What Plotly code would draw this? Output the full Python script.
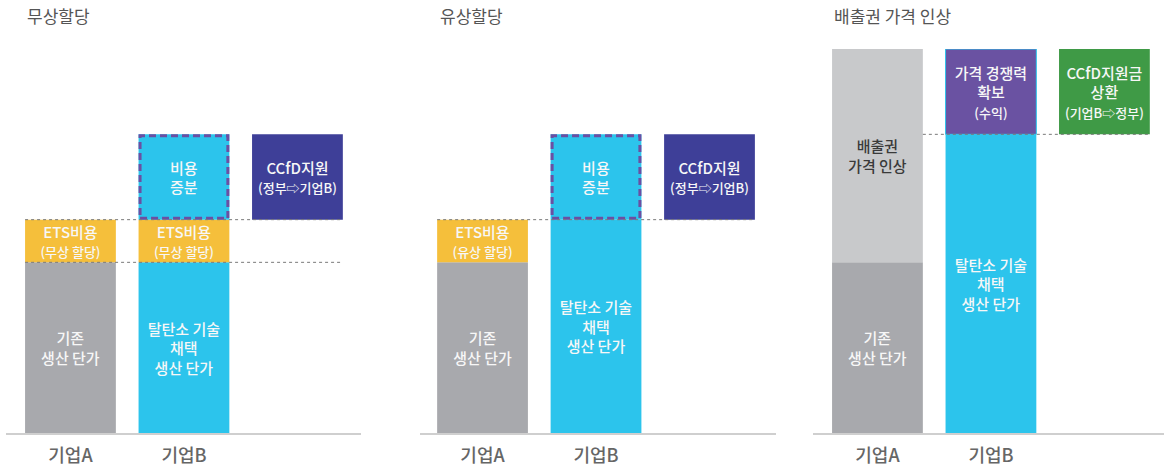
import plotly.graph_objects as go

# ---- data -------------------------------------------------------------
PANEL_TITLES = ["무상할당", "유상할당", "배출권 가격 인상"]
COMPANIES = ["기업A", "기업B"]

# 기업A: 기존 생산 단가 + (ETS비용 / 배출권 가격 인상)
A_BASE_COST = [100, 100, 100]
A_EXTRA_COST = [25, 25, 125]

# 기업B: 탈탄소 기술 채택 생산 단가, ETS비용, 상단 박스(비용 증분 / 가격 경쟁력)
B_BASE_COST = [100, 125, 175]
B_ETS_COST = [25, 0, 0]
B_TOP_BOX = [50, 50, 50]

# 세 번째 막대: CCfD 지원 / 상환
CCFD_AMOUNT = [50, 50, 50]

# ---- style ------------------------------------------------------------
FONT = "Noto Sans CJK KR"
GRAY = "#a8a9ad"
LIGHT_GRAY = "#c8c9cb"
YELLOW = "#f5bf3b"
BLUE = "#2cc4ec"
NAVY = "#3e3f98"
PURPLE = "#6a52a2"
DASH_PURPLE = "#6b4fa2"
GREEN = "#3f9a46"
WHITE_TXT = "#f7f7f7"

W, H = 1164, 468
BAR_W = 0.8
# x-axis pixel spans of each panel and the ranges that place the bars
X_DOMAINS = [(6, 361), (420, 776), (813, 1164)]
X_RANGES = [(-0.568, 2.560), (-0.551, 2.586), (-0.568, 2.525)]
Y_DOMAIN = ((H - 433) / H, (H - 49) / H)
Y_MAX = 225
PX_PER_UNIT_Y = 384 / Y_MAX
PX_PER_UNIT_X = 113.5


def small(t, size=13):
    return f"<span style='font-size:{size}px'>{t}</span>"


fig = go.Figure()


def add_bar(panel, x, base, height, color, text, txt_color=WHITE_TXT,
            size=15, line_color=None, line_width=0):
    suffix = "" if panel == 0 else str(panel + 1)
    fig.add_trace(go.Bar(
        x=[x], y=[height], base=[base], width=BAR_W,
        marker=dict(color=color,
                    line=dict(color=line_color or color, width=line_width)),
        text=[text], textposition="inside", insidetextanchor="middle",
        textangle=0, constraintext="none",
        textfont=dict(family=FONT, size=size, color=txt_color, weight=500),
        xaxis="x" + suffix, yaxis="y" + suffix,
        hoverinfo="skip", showlegend=False,
    ))


shapes = []


def dotted(panel, x0, x1, y):
    suffix = "" if panel == 0 else str(panel + 1)
    shapes.append(dict(type="line", xref="x" + suffix, yref="y" + suffix,
                       x0=x0, x1=x1, y0=y, y1=y, layer="above",
                       line=dict(color="#7a7a7a", width=1, dash="dot")))


def dashed_box(panel, x, y0, y1):
    suffix = "" if panel == 0 else str(panel + 1)
    dx = 1.5 / PX_PER_UNIT_X
    dy = 1.5 / PX_PER_UNIT_Y
    shapes.append(dict(type="rect", xref="x" + suffix, yref="y" + suffix,
                       x0=x - BAR_W / 2 + dx, x1=x + BAR_W / 2 - dx,
                       y0=y0 + dy, y1=y1 - dy, layer="above",
                       line=dict(color=DASH_PURPLE, width=3, dash="7px,4px")))


ets_sub = ["(무상 할당)", "(유상 할당)"]
decarb_txt = "탈탄소 기술<br>채택<br>생산 단가"
existing_txt = "기존<br>생산 단가"

for p in range(3):
    # 기업A
    add_bar(p, 0, 0, A_BASE_COST[p], GRAY, existing_txt)
    if p < 2:
        add_bar(p, 0, A_BASE_COST[p], A_EXTRA_COST[p], YELLOW,
                "ETS비용<br>" + small(ets_sub[p]), size=15)
    else:
        add_bar(p, 0, A_BASE_COST[p], A_EXTRA_COST[p], LIGHT_GRAY,
                "배출권<br>가격 인상", txt_color="#3a3a3a", size=15)

    # 기업B
    add_bar(p, 1, 0, B_BASE_COST[p], BLUE, decarb_txt)
    top = B_BASE_COST[p]
    if B_ETS_COST[p]:
        add_bar(p, 1, top, B_ETS_COST[p], YELLOW,
                "ETS비용<br>" + small(ets_sub[p]), size=15)
        top += B_ETS_COST[p]
    if p < 2:
        add_bar(p, 1, top, B_TOP_BOX[p], BLUE, "비용<br>증분", size=15)
        dashed_box(p, 1, top, top + B_TOP_BOX[p])
        add_bar(p, 2, top, CCFD_AMOUNT[p], NAVY,
                "CCfD지원<br>" + small("(정부⇨기업B)"), size=15)
        if p == 0:
            dotted(p, -BAR_W / 2, 2 + BAR_W / 2, A_BASE_COST[p])
        dotted(p, -BAR_W / 2, 2 + BAR_W / 2, top)
    else:
        add_bar(p, 1, top, B_TOP_BOX[p], PURPLE,
                "가격 경쟁력<br>확보<br>" + small("(수익)"), size=15,
                line_color=BLUE, line_width=1)
        add_bar(p, 2, top, CCFD_AMOUNT[p], GREEN,
                "CCfD지원금<br>상환<br>" + small("(기업B⇨정부)"), size=15)
        dotted(p, BAR_W / 2, 2 + BAR_W / 2, top)

layout = dict(
    width=W, height=H, margin=dict(l=0, r=0, t=0, b=0),
    paper_bgcolor="white", plot_bgcolor="white",
    barmode="overlay", font=dict(family=FONT),
    shapes=shapes,
)

annotations = []
title_x = [25, 438, 832]
for p in range(3):
    suffix = "" if p == 0 else str(p + 1)
    layout["xaxis" + suffix] = dict(
        domain=[X_DOMAINS[p][0] / W, X_DOMAINS[p][1] / W],
        range=list(X_RANGES[p]), anchor="y" + suffix,
        tickvals=[0, 1], ticktext=COMPANIES,
        tickfont=dict(family=FONT, size=18, color="#666666", weight=500),
        ticks="outside", ticklen=5, tickcolor="rgba(0,0,0,0)",
        showline=True, linecolor="#cfcfcf", linewidth=2,
        showgrid=False, zeroline=False, fixedrange=True,
    )
    layout["yaxis" + suffix] = dict(
        domain=list(Y_DOMAIN), range=[0, Y_MAX], anchor="x" + suffix,
        visible=False, fixedrange=True,
    )
    annotations.append(dict(
        text=PANEL_TITLES[p], xref="paper", yref="paper",
        x=title_x[p] / W, y=(H - 16) / H, xanchor="left", yanchor="middle",
        showarrow=False, font=dict(family=FONT, size=17, color="#555555"),
    ))
layout["annotations"] = annotations

fig.update_layout(**layout)
fig.write_html("out.html")
